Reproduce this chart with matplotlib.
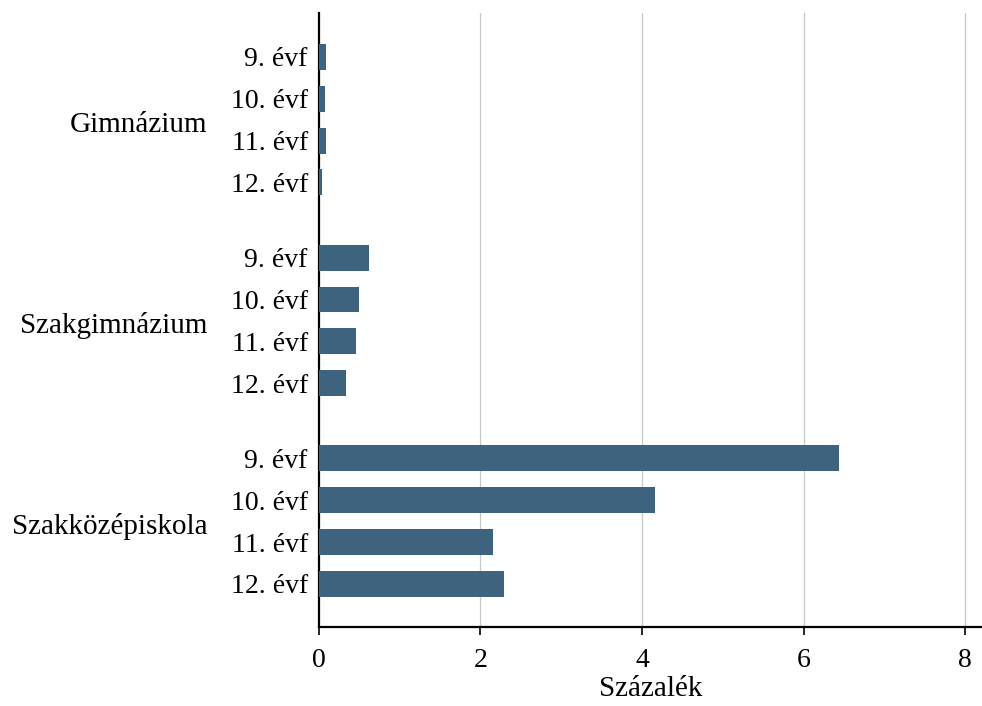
import matplotlib
matplotlib.use("Agg")
import matplotlib.pyplot as plt
import numpy as np

groups = ["Gimnázium", "Szakgimnázium", "Szakközépiskola"]
grades = ["9. évf", "10. évf", "11. évf", "12. évf"]
values = {
    "Gimnázium": [0.09, 0.08, 0.09, 0.04],
    "Szakgimnázium": [0.62, 0.50, 0.46, 0.33],
    "Szakközépiskola": [6.44, 4.16, 2.15, 2.29],
}
x_ticks = [0, 2, 4, 6, 8]

BAR_COLOR = "#3d637f"
GROUP_STEP = 4.8

plt.rcParams["font.family"] = ["Liberation Serif", "DejaVu Serif"]

fig = plt.figure(figsize=(9.82, 7.06), dpi=100)
ax = fig.add_axes([0.3248, 0.112, 0.6752, 0.8696])

ypos, ylabels, vals = [], [], []
for gi, g in enumerate(groups):
    for k, grade in enumerate(grades):
        ypos.append(gi * GROUP_STEP + k)
        ylabels.append(grade)
        vals.append(values[g][k])

ax.barh(ypos, vals, height=0.62, color=BAR_COLOR, edgecolor="none", zorder=3)

ax.set_ylim(13.63, -1.05)
ax.set_xlim(0, 8.21)
ax.set_yticks(ypos)
ax.set_yticklabels(ylabels, fontsize=20)
ax.tick_params(axis="y", length=0, pad=8)
ax.set_xticks(x_ticks)
ax.set_xticklabels([str(t) for t in x_ticks], fontsize=20)
ax.tick_params(axis="x", length=6, width=1.2, pad=9)

for t in x_ticks[1:]:
    ax.axvline(t, color="#c8c8c8", linewidth=0.9, zorder=1)

for gi, g in enumerate(groups):
    yc = gi * GROUP_STEP + 1.62
    ax.text(-1.38, yc, g, ha="right", va="center", fontsize=21,
            transform=ax.transData, clip_on=False)

ax.set_xlabel("Százalék", fontsize=21, labelpad=2)

for side in ["top", "right"]:
    ax.spines[side].set_visible(False)
ax.spines["left"].set_linewidth(1.6)
ax.spines["bottom"].set_linewidth(1.6)

fig.savefig("out.png", dpi=100)
